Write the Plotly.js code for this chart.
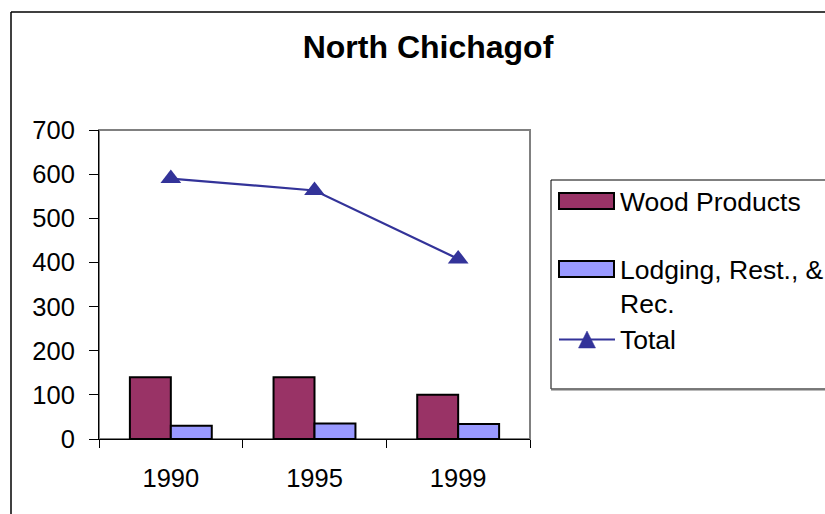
<!DOCTYPE html>
<html>
<head>
<meta charset="utf-8">
<script src="https://cdn.plot.ly/plotly-3.0.1.min.js"></script>
<style>html,body{margin:0;padding:0;background:#fff;}#chart{width:825px;height:514px;}</style>
</head>
<body>
<div id="chart"></div>
<script>
// ---- data ----
const years = ["1990", "1995", "1999"];
const woodProducts = [140, 140, 100];
const lodgingRestRec = [30, 35, 34];
const total = [590, 563, 408];
const seriesNames = ["Wood Products", "Lodging, Rest., &<br>Rec.", "Total"];
const yTicks = [0, 100, 200, 300, 400, 500, 600, 700];

// ---- layout geometry ----
const W = 825, H = 514;
const L = 99, R = 530, T = 130, B = 439;
const px = x => (x - L) / (R - L);
const py = y => (B - y) / (B - T);

const FONT = "Liberation Sans, Arial, sans-serif";
const cWood = "#993366", cLodge = "#9999FF", cTotal = "#333399";

const traces = [
  { type: "bar", x: years, y: woodProducts, name: seriesNames[0],
    marker: { color: cWood, line: { color: "#000", width: 2 } }, hoverinfo: "y" },
  { type: "bar", x: years, y: lodgingRestRec, name: seriesNames[1],
    marker: { color: cLodge, line: { color: "#000", width: 2 } }, hoverinfo: "y" },
  { type: "scatter", mode: "lines+markers", x: years, y: total, name: seriesNames[2],
    line: { color: cTotal, width: 2.2 },
    marker: { symbol: "triangle-up", size: 18, color: cTotal } }
];

const shapes = [
  // plot area grey border
  { type: "rect", xref: "paper", yref: "paper", x0: 0, x1: 1, y0: 0, y1: 1,
    line: { color: "#808080", width: 2 }, layer: "below" },
  // outer chart border (left & top)
  { type: "line", xref: "paper", yref: "paper", x0: px(11), x1: px(11), y0: py(520), y1: py(12),
    line: { color: "#000", width: 1.5 } },
  { type: "line", xref: "paper", yref: "paper", x0: px(11), x1: px(830), y0: py(12), y1: py(12),
    line: { color: "#000", width: 1.5 } },
  // legend box
  { type: "rect", xref: "paper", yref: "paper", x0: px(551), x1: px(835), y0: py(389), y1: py(180),
    line: { color: "#000", width: 1 } },
  { type: "line", xref: "paper", yref: "paper", x0: px(551), x1: px(835), y0: py(389.5), y1: py(389.5),
    line: { color: "#777", width: 2 } },
  // legend symbols
  { type: "rect", xref: "paper", yref: "paper", x0: px(559), x1: px(614), y0: py(209), y1: py(193),
    fillcolor: cWood, line: { color: "#000", width: 2 } },
  { type: "rect", xref: "paper", yref: "paper", x0: px(559), x1: px(614), y0: py(277), y1: py(261),
    fillcolor: cLodge, line: { color: "#000", width: 2 } },
  { type: "line", xref: "paper", yref: "paper", x0: px(559), x1: px(615), y0: py(339.5), y1: py(339.5),
    line: { color: cTotal, width: 2 } },
  { type: "path", xref: "paper", yref: "paper",
    path: `M${px(578.5)},${py(348)} L${px(595.5)},${py(348)} L${px(587)},${py(331)} Z`,
    fillcolor: cTotal, line: { color: cTotal, width: 0.5 } }
];

const annotations = [
  { text: seriesNames[0], xref: "paper", yref: "paper", x: px(618), y: py(201.5),
    xanchor: "left", yanchor: "middle", showarrow: false, font: { family: FONT, size: 26.5, color: "#000" } },
  { text: seriesNames[1], xref: "paper", yref: "paper", x: px(618), y: py(287),
    xanchor: "left", yanchor: "middle", align: "left", showarrow: false, font: { family: FONT, size: 26.5, color: "#000" } },
  { text: seriesNames[2], xref: "paper", yref: "paper", x: px(618), y: py(339.5),
    xanchor: "left", yanchor: "middle", showarrow: false, font: { family: FONT, size: 26.5, color: "#000" } }
];

const layout = {
  width: W, height: H,
  margin: { l: L, r: W - R, t: T, b: H - B, pad: 0 },
  paper_bgcolor: "#fff", plot_bgcolor: "#fff",
  font: { family: FONT, size: 25, color: "#000" },
  title: { text: "<b>North Chichagof</b>", font: { family: FONT, size: 32, color: "#000" },
    xref: "container", yref: "container", x: 428 / W, y: 1 - 47 / H, xanchor: "center", yanchor: "middle" },
  showlegend: false,
  barmode: "group", bargap: 0.43, bargroupgap: 0,
  xaxis: { type: "category", categoryarray: years, range: [-0.5, 2.5],
    showline: true, linecolor: "#000", linewidth: 1,
    ticks: "outside", tickson: "boundaries", ticklen: 8, tickcolor: "#000", tickwidth: 1,
    showgrid: false, zeroline: false, ticklabelstandoff: 16,
    tickfont: { family: FONT, size: 25.5, color: "#000" } },
  xaxis2: { overlaying: "x", anchor: "y", side: "bottom", range: [-0.5, 2.5],
    tickmode: "array", tickvals: [-0.5, 0.5, 1.5, 2.5], ticks: "inside", ticklen: 7,
    tickcolor: "#000", tickwidth: 1, showticklabels: false, showline: false, showgrid: false, zeroline: false },
  yaxis: { range: [0, 700], tickmode: "array", tickvals: yTicks,
    showline: true, linecolor: "#000", linewidth: 1,
    ticks: "outside", ticklen: 9, tickcolor: "#000", tickwidth: 1,
    showgrid: false, zeroline: false, ticklabelstandoff: 9,
    tickfont: { family: FONT, size: 25.5, color: "#000" } },
  shapes: shapes,
  annotations: annotations
};

Plotly.newPlot("chart", traces, layout, { displayModeBar: false, staticPlot: true });
</script>
</body>
</html>
